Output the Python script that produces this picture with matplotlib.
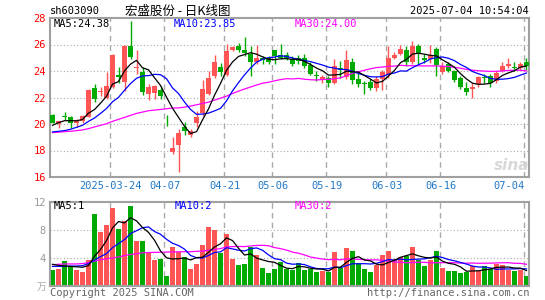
"""
宏盛股份 日K线图 (sh603090) - 仿新浪财经K线图
"""
import matplotlib
matplotlib.use('Agg')
import matplotlib.pyplot as plt

# ---- 数据 ----
tick_idx = [10, 19, 29, 37, 46, 56, 65, 79]
tick_labels = ['2025-03-24', '04-07', '04-21', '05-06', '05-19', '06-03', '06-16', '07-04']

opens = [20.7, 20.0, 20.6, 20.55, 20.05, 20.2, 20.55, 22.75, 22.4, 22.0,
         22.8, 23.7, 23.2, 25.9, 24.2, 23.9, 22.3, 22.35, 22.6, 19.95,
         17.85, 18.45, 19.8, 19.15, 20.1, 20.8, 22.3, 23.6, 24.3, 23.7,
         25.6, 25.85, 25.55, 25.3, 24.65, 24.95, 24.95, 25.55, 25.2, 25.2,
         24.9, 24.95, 24.95, 24.45, 23.7, 23.3, 23.45, 23.1, 24.25, 23.55,
         24.65, 23.4, 23.1, 23.2, 22.75, 23.4, 23.7, 25.0, 25.3, 25.55,
         24.65, 25.9, 24.95, 24.9, 25.65, 23.9, 24.5, 24.0, 23.5, 22.7,
         22.65, 23.0, 23.55, 23.6, 23.25, 24.0, 24.35, 24.3, 24.25, 24.65]
highs = [20.75, 20.25, 20.9, 20.6, 20.4, 20.7, 22.65, 23.0, 22.8, 23.9,
         25.25, 24.3, 25.95, 27.8, 25.55, 24.3, 23.0, 22.95, 22.9, 20.65,
         19.0, 19.65, 20.15, 19.6, 21.0, 23.3, 24.0, 25.2, 24.6, 26.05,
         25.9, 26.1, 26.55, 25.9, 25.95, 25.1, 25.1, 25.6, 26.05, 25.4,
         25.1, 25.2, 25.3, 24.65, 24.0, 23.7, 23.65, 24.9, 24.75, 25.55,
         24.95, 24.0, 23.25, 23.4, 23.6, 24.1, 25.85, 25.4, 26.0, 25.9,
         26.25, 26.05, 25.3, 26.0, 25.8, 24.65, 24.7, 24.1, 23.6, 23.2,
         23.1, 23.6, 23.75, 23.75, 24.0, 24.65, 25.0, 24.65, 24.7, 24.95]
lows = [20.05, 19.7, 20.3, 19.7, 19.8, 20.1, 20.5, 21.65, 22.1, 21.9,
        22.7, 23.1, 22.5, 24.9, 23.8, 22.2, 21.8, 21.9, 21.9, 19.85,
        17.75, 16.4, 19.2, 19.05, 19.8, 20.6, 22.2, 23.5, 23.6, 23.6,
        25.5, 25.4, 25.15, 23.6, 24.5, 24.5, 24.5, 24.5, 24.9, 24.8,
        24.4, 24.5, 24.2, 23.7, 23.25, 23.1, 22.8, 23.0, 23.5, 23.4,
        23.0, 22.8, 22.3, 22.55, 22.5, 22.6, 23.5, 24.9, 25.2, 24.4,
        24.5, 24.5, 24.6, 24.6, 23.65, 23.8, 23.9, 23.2, 22.65, 22.2,
        21.95, 22.8, 23.1, 22.8, 23.1, 23.9, 24.25, 24.0, 24.1, 24.1]
closes = [20.1, 20.2, 20.5, 20.1, 20.3, 20.6, 22.6, 21.85, 22.5, 22.9,
          25.2, 23.55, 25.9, 25.05, 24.3, 22.4, 22.8, 22.9, 22.15, 19.9,
          18.2, 19.35, 19.5, 19.5, 20.55, 22.65, 23.5, 24.65, 23.95, 25.5,
          25.8, 25.6, 25.35, 24.65, 24.95, 24.8, 24.7, 25.15, 25.0, 25.0,
          24.55, 24.75, 24.35, 23.8, 23.65, 23.55, 23.1, 24.4, 24.05, 24.85,
          23.3, 23.0, 23.05, 22.75, 23.4, 23.9, 25.0, 25.2, 25.65, 24.65,
          25.9, 25.3, 24.85, 25.2, 24.45, 24.4, 24.0, 23.35, 22.8, 22.45,
          22.8, 23.55, 23.45, 23.1, 23.85, 24.4, 24.5, 24.25, 24.5, 24.38]

ma5 = [19.9, 20.1, 20.25, 20.25, 20.24, 20.34, 20.82, 21.09, 21.57, 22.09,
       23.01, 23.2, 24.01, 24.52, 24.8, 24.24, 24.09, 23.49, 22.91, 22.03,
       21.19, 20.5, 19.82, 19.29, 19.42, 20.31, 21.14, 22.17, 23.06, 24.05,
       24.68, 25.1, 25.24, 25.38, 25.27, 25.07, 24.89, 24.85, 24.92, 24.93,
       24.88, 24.89, 24.73, 24.49, 24.22, 24.02, 23.69, 23.7, 23.75, 23.99,
       23.94, 23.92, 23.65, 23.39, 23.1, 23.22, 23.62, 24.05, 24.63, 24.88,
       25.28, 25.34, 25.27, 25.18, 25.14, 24.84, 24.58, 24.28, 23.8, 23.4,
       23.08, 22.99, 23.01, 23.07, 23.35, 23.67, 23.86, 24.02, 24.3, 24.38]
ma10 = [19.4, 19.45, 19.5, 19.6, 19.75, 19.9, 20.2, 20.45, 20.8, 21.17,
        21.68, 22.01, 22.55, 23.05, 23.45, 23.63, 23.65, 23.75, 23.72, 23.42,
        22.72, 22.3, 21.66, 21.1, 20.73, 20.75, 20.82, 20.99, 21.18, 21.74,
        22.5, 23.12, 23.71, 24.22, 24.66, 24.88, 25.0, 25.05, 25.15, 25.1,
        24.98, 24.89, 24.79, 24.71, 24.58, 24.45, 24.29, 24.22, 24.12, 24.11,
        23.98, 23.81, 23.68, 23.57, 23.55, 23.58, 23.77, 23.85, 24.01, 23.99,
        24.25, 24.48, 24.66, 24.91, 25.01, 25.06, 24.96, 24.78, 24.49, 24.27,
        23.96, 23.79, 23.65, 23.44, 23.38, 23.38, 23.43, 23.52, 23.69, 23.85]
ma30 = [19.35, 19.38, 19.42, 19.45, 19.5, 19.55, 19.65, 19.78, 19.9, 20.02,
        20.2, 20.35, 20.5, 20.65, 20.8, 20.9, 21.0, 21.05, 21.1, 21.15,
        21.2, 21.22, 21.27, 21.35, 21.45, 21.55, 21.65, 21.8, 21.95, 22.1,
        22.3, 22.48, 22.64, 22.79, 22.94, 23.08, 23.15, 23.26, 23.35, 23.42,
        23.4, 23.44, 23.38, 23.34, 23.32, 23.36, 23.37, 23.42, 23.48, 23.65,
        23.82, 23.94, 24.06, 24.17, 24.26, 24.3, 24.35, 24.37, 24.43, 24.4,
        24.4, 24.39, 24.38, 24.39, 24.38, 24.36, 24.34, 24.28, 24.21, 24.12,
        24.06, 24.02, 23.99, 23.97, 23.98, 24.0, 24.05, 24.05, 24.06, 24.0]

volumes = [2.35, 2.5, 3.6, 2.9, 2.35, 2.05, 3.65, 10.3, 7.75, 8.7,
           11.1, 8.2, 9.3, 11.5, 6.4, 6.4, 4.7, 3.7, 3.85, 1.5,
           5.55, 4.9, 4.2, 2.45, 3.15, 5.85, 8.4, 8.0, 4.75, 7.4,
           3.9, 2.95, 3.1, 5.6, 4.4, 2.6, 1.8, 2.5, 3.45, 2.4,
           2.25, 3.35, 2.25, 2.4, 1.95, 2.1, 2.05, 4.8, 2.55, 5.4,
           4.95, 3.25, 2.4, 1.95, 3.05, 4.4, 5.05, 3.9, 4.1, 4.3,
           5.6, 3.65, 2.8, 3.65, 5.05, 2.6, 2.1, 2.1, 1.8, 1.95,
           2.8, 2.2, 2.8, 2.4, 3.1, 2.95, 2.3, 2.1, 2.3, 1.4]
vma5 = [3.1, 2.95, 2.85, 2.8, 2.74, 2.68, 2.91, 4.25, 5.22, 6.49,
        8.3, 9.21, 9.01, 9.76, 9.3, 8.36, 7.66, 6.54, 5.01, 4.03,
        3.86, 3.9, 4.0, 3.72, 4.05, 4.11, 4.81, 5.57, 6.03, 6.88,
        6.49, 5.4, 4.42, 4.59, 3.99, 3.73, 3.5, 3.38, 2.95, 2.55,
        2.48, 2.79, 2.74, 2.53, 2.44, 2.41, 2.15, 2.66, 2.69, 3.38,
        3.95, 4.19, 3.71, 3.59, 3.12, 3.01, 3.37, 3.67, 4.1, 4.35,
        4.59, 4.31, 4.09, 4.0, 4.15, 3.55, 3.24, 3.1, 2.73, 2.11,
        2.15, 2.17, 2.31, 2.43, 2.66, 2.69, 2.71, 2.57, 2.55, 2.21]
vma10 = [2.8, 2.8, 2.8, 2.85, 2.85, 2.9, 3.2, 3.7, 4.2, 4.62,
         5.49, 6.06, 6.63, 7.49, 7.9, 8.33, 8.44, 7.78, 7.39, 6.67,
         6.11, 5.78, 5.27, 4.37, 4.04, 3.99, 4.36, 4.79, 4.88, 5.47,
         5.3, 5.11, 5.0, 5.31, 5.44, 5.11, 4.45, 3.9, 3.77, 3.27,
         3.11, 3.15, 3.06, 2.74, 2.5, 2.45, 2.47, 2.7, 2.61, 2.91,
         3.18, 3.17, 3.19, 3.14, 3.25, 3.48, 3.78, 3.69, 3.85, 3.74,
         3.8, 3.84, 3.88, 4.05, 4.25, 4.07, 3.78, 3.6, 3.37, 3.13,
         2.85, 2.71, 2.71, 2.58, 2.39, 2.42, 2.44, 2.44, 2.49, 2.44]
vma30 = [3.05, 3.1, 3.15, 3.15, 3.15, 3.2, 3.35, 3.55, 3.75, 3.9,
         4.0, 4.15, 4.35, 4.5, 4.6, 4.75, 4.78, 4.8, 4.82, 4.85,
         4.87, 4.88, 4.9, 4.9, 4.95, 5.0, 5.1, 5.2, 5.35, 5.58,
         5.63, 5.65, 5.63, 5.72, 5.79, 5.81, 5.75, 5.49, 5.34, 5.13,
         4.84, 4.68, 4.44, 4.14, 3.99, 3.85, 3.76, 3.8, 3.75, 3.88,
         3.86, 3.81, 3.75, 3.73, 3.73, 3.68, 3.57, 3.43, 3.41, 3.31,
         3.36, 3.39, 3.38, 3.31, 3.33, 3.33, 3.34, 3.33, 3.27, 3.26,
         3.28, 3.24, 3.26, 3.26, 3.3, 3.32, 3.33, 3.24, 3.23, 3.1]

price_ticks = [16, 18, 20, 22, 24, 26, 28]
vol_ticks = [4, 8, 12]

# ---- 样式 ----
RED = '#FF5555'
GREEN = '#00AA00'
FRAME = '#A0A0A0'
GRID = '#AAAAAA'
MONO = 'DejaVu Sans Mono'
CJK = ['Noto Sans CJK SC', 'DejaVu Sans']
W, H = 545, 300


def fx(px):
    return px / W


def fy(py):
    return 1 - py / H


fig = plt.figure(figsize=(W / 100, H / 100), dpi=100)
fig.patch.set_facecolor('white')

ax = fig.add_axes([fx(50), fy(177), fx(479), 159 / H])
axv = fig.add_axes([fx(50), fy(286), fx(479), 84 / H])

n = len(closes)
x = list(range(n))
colors = [RED if c >= o else GREEN for o, c in zip(opens, closes)]

# 边框 + 竖向虚线
for a in (ax, axv):
    a.set_xlim(-0.42, 79.42)
    for s in a.spines.values():
        s.set_color(FRAME)
        s.set_linewidth(1.5)
    a.set_xticks([])
    for t in tick_idx:
        a.axvline(t - 0.35, color=GRID, lw=1, ls=(0, (4, 3)), zorder=0)

# 主图: K线 + 均线
ax.set_ylim(16, 28)
for p in price_ticks[1:-1]:
    ax.axhline(p, color=GRID, lw=0.8, ls=(0, (1, 2)), zorder=0)

ax.vlines(x, lows, highs, colors=colors, lw=1, zorder=2)
bottoms = [min(o, c) for o, c in zip(opens, closes)]
heights = [max(abs(c - o), 0.05) for o, c in zip(opens, closes)]
ax.bar(x, heights, bottom=bottoms, width=0.82, color=colors, linewidth=0, zorder=3)

ax.plot(x, ma30, color='#FF00FF', lw=0.9, zorder=4)
ax.plot(x, ma10, color='#0000FF', lw=0.9, zorder=4)
ax.plot(x, ma5, color='black', lw=0.9, zorder=5)

ax.set_yticks(price_ticks)
ax.set_yticklabels([str(p) for p in price_ticks], family=MONO, fontsize=7.5)
ax.tick_params(axis='y', length=0, pad=3, labelcolor='#FF0000')

# 成交量
axv.set_ylim(0, 12)
for v in vol_ticks[:-1]:
    axv.axhline(v, color=GRID, lw=0.8, ls=(0, (1, 2)), zorder=0)
axv.bar(x, volumes, width=0.82, color=colors, linewidth=0, zorder=2)
axv.plot(x, vma30, color='#FF00FF', lw=0.9, zorder=3)
axv.plot(x, vma10, color='#0000FF', lw=0.9, zorder=3)
axv.plot(x, vma5, color='black', lw=0.9, zorder=4)
axv.set_yticks(vol_ticks)
axv.set_yticklabels([str(v) for v in vol_ticks], family=MONO, fontsize=7.5)
axv.tick_params(axis='y', length=0, pad=3, labelcolor='#999999')

# 日期标签
for t, lab in zip(tick_idx, tick_labels):
    ha = 'right' if t == tick_idx[-1] else 'center'
    xp = 52.5 + 6 * t - 2
    fig.text(fx(xp), fy(186), lab, ha=ha, va='center', family=MONO,
             fontsize=7.5, color='#1F78C8')

# 文字
fig.text(fx(50), fy(11), 'sh603090', ha='left', va='center', family=MONO,
         fontsize=7.5, color='black')
fig.text(fx(178), fy(11), '宏盛股份 - 日K线图', ha='center', va='center',
         family=CJK, fontsize=9, color='black')
fig.text(fx(529), fy(11), '2025-07-04 10:54:04', ha='right', va='center',
         family=MONO, fontsize=7.5, color='black')

fig.text(fx(54), fy(24), 'MA5:24.38', ha='left', va='center', family=MONO,
         fontsize=7.5, color='black')
fig.text(fx(174), fy(24), 'MA10:23.85', ha='left', va='center', family=MONO,
         fontsize=7.5, color='#0000FF')
fig.text(fx(295), fy(24), 'MA30:24.00', ha='left', va='center', family=MONO,
         fontsize=7.5, color='#FF00FF')

fig.text(fx(54), fy(206), 'MA5:1', ha='left', va='center', family=MONO,
         fontsize=7.5, color='black')
fig.text(fx(175), fy(206), 'MA10:2', ha='left', va='center', family=MONO,
         fontsize=7.5, color='#0000FF')
fig.text(fx(295), fy(206), 'MA30:2', ha='left', va='center', family=MONO,
         fontsize=7.5, color='#FF00FF')

fig.text(fx(46), fy(287), '万', ha='right', va='center', family=CJK,
         fontsize=7, color='#AAAAAA')
fig.text(fx(50), fy(293), 'Copyright 2025 SINA.COM', ha='left', va='center',
         family=MONO, fontsize=7.5, color='#666666')
fig.text(fx(529), fy(293), 'http://finance.sina.com.cn', ha='right', va='center',
         family=MONO, fontsize=7.5, color='#666666')

# 水印
fig.text(fx(512), fy(166), 'sina', ha='center', va='center', fontsize=11,
         fontweight='bold', style='italic', color='#D8D8D8')

fig.savefig('out.png', dpi=100)
plt.close(fig)
